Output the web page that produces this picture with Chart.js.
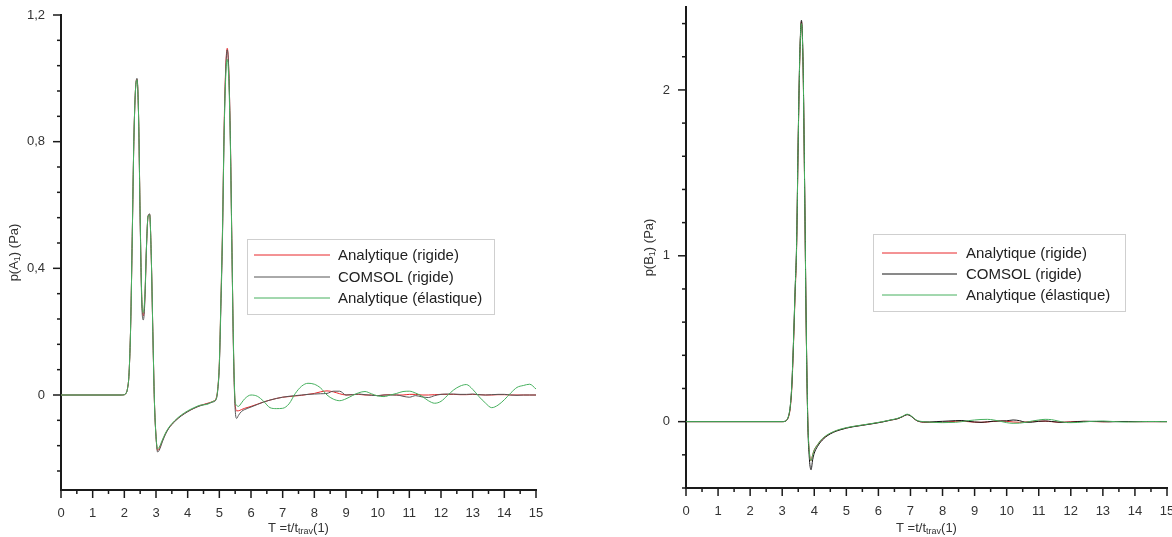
<!DOCTYPE html>
<html>
<head>
<meta charset="UTF-8">
<title>p(A1) et p(B1)</title>
<script src="https://cdn.jsdelivr.net/npm/chart.js"></script>
<style>
  body { margin: 0; background: #fff; }
  #cadre { position: relative; width: 1172px; height: 537px; }
  canvas { position: absolute; top: 0; }
  #grapheA { left: 0; }
  #grapheB { left: 586px; }
</style>
</head>
<body>
<div id="cadre">
  <canvas id="grapheA" width="586" height="537"></canvas>
  <canvas id="grapheB" width="586" height="537"></canvas>
</div>
<script>
// ---- données ----
const legende = ['Analytique (rigide)', 'COMSOL (rigide)', 'Analytique (élastique)'];

const majeursX = [0, 1, 2, 3, 4, 5, 6, 7, 8, 9, 10, 11, 12, 13, 14, 15];
const etiquettesX = ['0', '1', '2', '3', '4', '5', '6', '7', '8', '9', '10', '11', '12', '13', '14', '15'];
const majeursYA = [0, 0.4, 0.8, 1.2];
const etiquettesYA = ['0', '0,4', '0,8', '1,2'];
const majeursYB = [0, 1, 2];
const etiquettesYB = ['0', '1', '2'];

// titres : [texte, indice ?]
const titreX = [['T =t/t', false], ['trav', true], ['(1)', false]];
const titreYA = [['p(A', false], ['1', true], [') (Pa)', false]];
const titreYB = [['p(B', false], ['1', true], [') (Pa)', false]];

// point A
const tA = [
  0, 1.9, 2.0,
  2.05, 2.1, 2.15, 2.2, 2.25, 2.3, 2.35, 2.4, 2.45, 2.5, 2.55, 2.6, 2.65, 2.7, 2.75, 2.8, 2.85, 2.9, 2.95, 3.0, 3.05, 3.1,
  3.2, 3.3, 3.4, 3.6, 3.8, 4.0, 4.2, 4.4, 4.6, 4.8, 4.9,
  4.95, 5.0, 5.05, 5.1, 5.15, 5.2, 5.25, 5.3, 5.35, 5.4, 5.45, 5.5, 5.55,
  5.6, 5.7,
  5.8, 6.0, 6.2, 6.4, 6.6, 6.8, 7.0, 7.2, 7.4, 7.6,
  7.8, 8.0, 8.2, 8.4, 8.6, 8.8, 9.0, 9.2, 9.4, 9.6,
  9.8, 10.0, 10.2, 10.4, 10.6, 10.8, 11.0, 11.2, 11.4, 11.6,
  11.8, 12.0, 12.2, 12.4, 12.6, 12.8, 13.0, 13.2, 13.4, 13.6,
  13.8, 14.0, 14.2, 14.4, 14.6, 14.8, 15.0
];
const rigideA = [
  0, 0, 0.001,
  0.005, 0.02, 0.07, 0.22, 0.5, 0.8, 0.96, 0.997, 0.88, 0.56, 0.31, 0.25, 0.31, 0.47, 0.565, 0.57, 0.44, 0.2, -0.02, -0.13, -0.175, -0.17,
  -0.145, -0.122, -0.105, -0.082, -0.065, -0.052, -0.042, -0.033, -0.027, -0.02, -0.01,
  0.02, 0.1, 0.3, 0.52, 0.84, 1.03, 1.095, 1.02, 0.8, 0.45, 0.13, -0.03, -0.05,
  -0.05, -0.046,
  -0.042, -0.036, -0.029, -0.022, -0.016, -0.011, -0.007, -0.005, -0.003, -0.001,
  0.002, 0.005, 0.01, 0.013, 0.01, 0.004, 0, 0.001, 0.002, 0,
  0, -0.002, 0, 0.001, 0, 0, 0.002, 0.002, 0, 0,
  0.001, 0.002, 0.002, 0.002, 0.001, 0.001, 0.002, 0.001, 0, 0,
  0.001, 0.001, 0, 0, 0, 0, 0
];
const comsolA = [
  0, 0, 0.001,
  0.005, 0.02, 0.07, 0.22, 0.5, 0.8, 0.96, 1.0, 0.88, 0.55, 0.29, 0.237, 0.30, 0.47, 0.565, 0.572, 0.44, 0.2, -0.02, -0.13, -0.18, -0.175,
  -0.148, -0.124, -0.106, -0.083, -0.066, -0.053, -0.042, -0.034, -0.028, -0.022, -0.014,
  0.015, 0.09, 0.28, 0.5, 0.82, 1.02, 1.09, 1.02, 0.8, 0.45, 0.12, -0.045, -0.074,
  -0.065, -0.052,
  -0.046, -0.038, -0.03, -0.022, -0.016, -0.011, -0.007, -0.004, -0.002, 0,
  0.002, 0.003, 0.004, 0.005, 0.012, 0.012, 0, 0.001, 0.003, 0.001,
  -0.001, -0.002, 0, 0, 0, -0.004, -0.007, -0.002, -0.006, -0.008,
  -0.002, 0.002, 0.003, 0.003, 0.002, 0.002, 0.003, 0.001, 0, 0.001,
  0.002, 0.002, 0, -0.001, 0, 0, 0
];
const elastiqueA = [
  0, 0, 0.001,
  0.005, 0.02, 0.07, 0.22, 0.5, 0.8, 0.96, 0.995, 0.88, 0.56, 0.31, 0.26, 0.32, 0.47, 0.565, 0.568, 0.44, 0.2, -0.02, -0.13, -0.17, -0.165,
  -0.142, -0.12, -0.103, -0.08, -0.063, -0.05, -0.04, -0.032, -0.03, -0.02, -0.012,
  0.02, 0.1, 0.3, 0.52, 0.82, 1.0, 1.06, 0.99, 0.78, 0.44, 0.14, -0.02, -0.033,
  -0.036, -0.025,
  -0.012, 0.0, -0.004, -0.02, -0.04, -0.043, -0.042, -0.028, 0.005, 0.028,
  0.037, 0.034, 0.022, 0.0, -0.013, -0.018, -0.012, -0.002, 0.007, 0.011,
  0.004, -0.003, -0.005, 0.0, 0.005, 0.011, 0.012, 0.006, -0.004, -0.018,
  -0.026, -0.02, -0.002, 0.016, 0.028, 0.033, 0.018, -0.005, -0.025, -0.04,
  -0.032, -0.015, 0.006, 0.024, 0.03, 0.034, 0.019
];

// point B
const tB = [
  0, 3.0,
  3.1, 3.15, 3.2, 3.25, 3.3, 3.35, 3.4, 3.45, 3.5, 3.55, 3.6, 3.65, 3.7, 3.75, 3.8, 3.85, 3.9, 3.95, 4.0,
  4.1, 4.2, 4.4, 4.6, 4.8, 5.0, 5.2, 5.5, 5.8, 6.1, 6.4, 6.6, 6.75, 6.9, 7.0, 7.1, 7.2, 7.4,
  7.6, 7.8, 8.0, 8.2, 8.4, 8.6, 8.8, 9.0, 9.2, 9.4,
  9.6, 9.8, 10.0, 10.2, 10.4, 10.6, 10.8, 11.0, 11.2, 11.4,
  11.6, 11.8, 12.0, 12.2, 12.4, 12.6, 12.8, 13.0, 13.2, 13.4,
  13.6, 13.8, 14.0, 14.2, 14.4, 14.6, 14.8, 15.0
];
const rigideB = [
  0, 0,
  0.002, 0.01, 0.03, 0.08, 0.2, 0.45, 0.75, 1.05, 1.7, 2.2, 2.41, 2.15, 1.4, 0.55, 0.0, -0.19, -0.235, -0.2, -0.17,
  -0.14, -0.115, -0.082, -0.062, -0.048, -0.038, -0.03, -0.021, -0.012, -0.002, 0.01, 0.018, 0.03, 0.043, 0.036, 0.02, 0.006, -0.003,
  -0.004, -0.004, -0.003, -0.001, 0.002, 0.003, 0, -0.003, -0.004, -0.002,
  0.002, 0.004, 0.002, -0.002, -0.004, -0.002, 0.001, 0.003, 0.003, 0,
  -0.003, -0.003, -0.001, 0.001, 0.002, 0.001, 0, -0.001, 0, 0.001,
  0.001, 0, 0, 0, 0, 0, 0, 0
];
const comsolB = [
  0, 0,
  0.003, 0.012, 0.035, 0.09, 0.22, 0.47, 0.78, 1.08, 1.72, 2.22, 2.42, 2.17, 1.42, 0.56, -0.02, -0.23, -0.29, -0.23, -0.19,
  -0.15, -0.122, -0.086, -0.064, -0.05, -0.039, -0.031, -0.022, -0.013, -0.003, 0.01, 0.018, 0.03, 0.042, 0.035, 0.02, 0.006, -0.002,
  -0.002, 0, 0.002, 0.004, 0.006, 0.007, 0.002, -0.002, -0.004, -0.001,
  0.003, 0.004, 0.005, 0.01, 0.006, -0.004, -0.003, 0.002, 0.004, 0.001,
  -0.003, -0.004, -0.003, 0, 0.002, 0.002, 0.001, 0, -0.001, 0,
  0.001, 0.001, 0, 0, 0, 0, 0, 0
];
const elastiqueB = [
  0, 0,
  0.003, 0.012, 0.035, 0.09, 0.22, 0.47, 0.78, 1.07, 1.71, 2.21, 2.40, 2.16, 1.41, 0.56, 0.0, -0.19, -0.235, -0.2, -0.17,
  -0.14, -0.112, -0.08, -0.06, -0.046, -0.036, -0.029, -0.02, -0.011, -0.001, 0.011, 0.02, 0.032, 0.045, 0.038, 0.022, 0.008, 0,
  -0.003, -0.005, -0.006, -0.005, -0.004, 0, 0.006, 0.01, 0.013, 0.014,
  0.01, 0.002, -0.006, -0.01, -0.009, -0.004, 0.004, 0.01, 0.014, 0.012,
  0.004, -0.004, -0.006, -0.005, -0.002, 0.001, 0.003, 0.004, 0.002, 0,
  -0.002, -0.002, -0.001, 0, 0.001, 0.001, 0, 0
];

// ---- mise en forme ----
const POLICE = '"Liberation Sans", Arial, sans-serif';
Chart.defaults.font.family = POLICE;
const ROUGE = '#e8262a';
const VERT = '#46b05e';

function graduations(min, max, pas) {
  const n = Math.round((max - min) / pas);
  const res = [];
  for (let i = 0; i <= n; i++) res.push(Math.round((min + i * pas) * 1000) / 1000);
  return res;
}

function etiquette(v, majeurs, etiquettes) {
  const i = majeurs.findIndex(m => Math.abs(m - v) < 1e-6);
  return i >= 0 ? etiquettes[i] : '';
}

function axe(min, max, mineurs, majeurs, etiquettes, taille, horizontal) {
  return {
    type: 'linear',
    min: min,
    max: max,
    afterBuildTicks: s => { s.ticks = mineurs.map(v => ({ value: v })); },
    afterFit: s => {
      if (horizontal) s.height = taille; else s.width = taille;
      s.paddingLeft = 0; s.paddingRight = 0; s.paddingTop = 0; s.paddingBottom = 0;
    },
    ticks: {
      autoSkip: false,
      maxRotation: 0,
      padding: horizontal ? 16 : 16,
      color: '#333',
      font: { size: 13 },
      callback: v => etiquette(v, majeurs, etiquettes)
    },
    grid: { display: true, drawOnChartArea: false, drawTicks: false },
    border: { display: true, color: '#1a1a1a', width: 2 }
  };
}

function ecrireTitre(ctx, morceaux, cx, cy, angle) {
  const fN = '13px ' + POLICE, fI = '9px ' + POLICE;
  ctx.save();
  ctx.translate(cx, cy);
  ctx.rotate(angle);
  let w = 0;
  morceaux.forEach(m => { ctx.font = m[1] ? fI : fN; w += ctx.measureText(m[0]).width; });
  let x = -w / 2;
  ctx.fillStyle = '#333';
  ctx.textBaseline = 'middle';
  morceaux.forEach(m => {
    ctx.font = m[1] ? fI : fN;
    ctx.fillText(m[0], x, m[1] ? 4 : 0);
    x += ctx.measureText(m[0]).width;
  });
  ctx.restore();
}

// graduations, titres et légende dessinés à la main
const habillage = {
  id: 'habillage',
  afterDraw(chart, args, o) {
    const ctx = chart.ctx, zone = chart.chartArea;
    const sx = chart.scales.x, sy = chart.scales.y;
    ctx.save();
    ctx.strokeStyle = '#1a1a1a';
    ctx.lineWidth = 1.5;
    sx.ticks.forEach(t => {
      const p = sx.getPixelForValue(t.value);
      const l = t.label ? 8 : 4;
      ctx.beginPath(); ctx.moveTo(p, zone.bottom); ctx.lineTo(p, zone.bottom + l); ctx.stroke();
    });
    sy.ticks.forEach(t => {
      const p = sy.getPixelForValue(t.value);
      const l = t.label ? 8 : 4;
      ctx.beginPath(); ctx.moveTo(zone.left, p); ctx.lineTo(zone.left - l, p); ctx.stroke();
    });
    ctx.restore();

    ecrireTitre(ctx, o.titreX, (zone.left + zone.right) / 2, o.titreXy, 0);
    ecrireTitre(ctx, o.titreY, o.titreYx, (zone.top + zone.bottom) / 2, -Math.PI / 2);

    // légende
    const L = o.legende;
    ctx.save();
    ctx.fillStyle = '#fff';
    ctx.fillRect(L.x, L.y, L.w, L.h);
    ctx.strokeStyle = '#cfcfcf';
    ctx.lineWidth = 1;
    ctx.strokeRect(L.x + 0.5, L.y + 0.5, L.w, L.h);
    ctx.font = '15px ' + POLICE;
    ctx.textBaseline = 'middle';
    chart.data.datasets.forEach((d, i) => {
      const y = L.lignes[i];
      ctx.strokeStyle = d.borderColor;
      ctx.beginPath(); ctx.moveTo(L.x1, y); ctx.lineTo(L.x2, y); ctx.stroke();
      ctx.fillStyle = '#222';
      ctx.fillText(d.label, L.xt, y + 1);
    });
    ctx.restore();
  }
};

function series(t, v) { return t.map((x, i) => ({ x: x, y: v[i] })); }

function jeux(t, r, c, e, noir) {
  const base = { borderWidth: 1, pointRadius: 0, fill: false, cubicInterpolationMode: 'monotone' };
  return [
    Object.assign({ label: legende[0], data: series(t, r), borderColor: ROUGE, order: 2 }, base),
    Object.assign({ label: legende[1], data: series(t, c), borderColor: noir, order: 1 }, base),
    Object.assign({ label: legende[2], data: series(t, e), borderColor: VERT, order: 0 }, base)
  ];
}

function graphe(id, datasets, echelleY, xTaille, marges, decor) {
  new Chart(document.getElementById(id), {
    type: 'line',
    data: { datasets: datasets },
    options: {
      responsive: false,
      animation: false,
      events: [],
      layout: { padding: marges },
      scales: {
        x: axe(0, 15, graduations(0, 15, 0.5), majeursX, etiquettesX, xTaille, true),
        y: echelleY
      },
      plugins: { legend: { display: false }, tooltip: { enabled: false }, habillage: decor }
    },
    plugins: [habillage]
  });
}

graphe('grapheA', jeux(tA, rigideA, comsolA, elastiqueA, '#555555'),
  axe(-0.3, 1.2, graduations(-0.24, 1.2, 0.08), majeursYA, etiquettesYA, 61, false),
  47, { top: 15, right: 50, bottom: 0, left: 0 },
  { titreX: titreX, titreXy: 528, titreY: titreYA, titreYx: 14,
    legende: { x: 247, y: 239, w: 247, h: 75, x1: 254, x2: 330, xt: 338, lignes: [255, 277, 298] } });

graphe('grapheB', jeux(tB, rigideB, comsolB, elastiqueB, '#151515'),
  axe(-0.4, 2.5, graduations(-0.4, 2.4, 0.2), majeursYB, etiquettesYB, 100, false),
  49, { top: 7, right: 5, bottom: 0, left: 0 },
  { titreX: titreX, titreXy: 528, titreY: titreYB, titreYx: 63,
    legende: { x: 287, y: 234, w: 252, h: 77, x1: 296, x2: 371, xt: 380, lignes: [253, 274, 295] } });
</script>
</body>
</html>
